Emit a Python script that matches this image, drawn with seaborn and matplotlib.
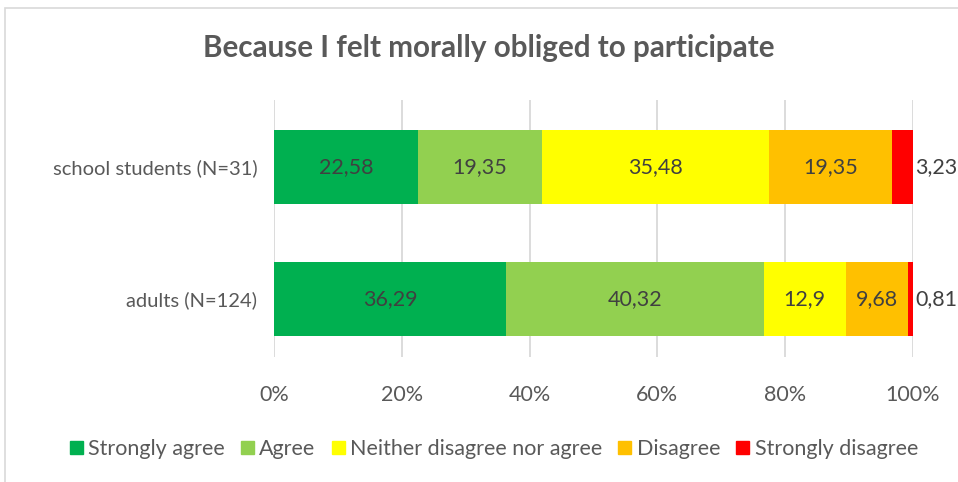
import matplotlib
matplotlib.use("Agg")
import matplotlib.pyplot as plt
import matplotlib.patches as mpatches
import numpy as np
import pandas as pd
import seaborn as sns

groups = ["school students (N=31)", "adults (N=124)"]
answers = ["Strongly agree", "Agree", "Neither disagree nor agree", "Disagree", "Strongly disagree"]
colors = ["#00B050", "#92D050", "#FFFF00", "#FFC000", "#FF0000"]
strongly_agree = [22.58, 36.29]
agree = [19.35, 40.32]
neither = [35.48, 12.9]
disagree = [19.35, 9.68]
strongly_disagree = [3.23, 0.81]

sns.set_theme(style="white")
plt.rcParams["font.family"] = ["Lato", "DejaVu Sans"]

values = np.array([strongly_agree, agree, neither, disagree, strongly_disagree])
cum = values.cumsum(axis=0)

fig = plt.figure(figsize=(9.58, 4.82), dpi=100)
ax = fig.add_axes([274 / 958, 1 - 357 / 482, 639 / 958, 257 / 482])

# stacked bars: draw the running totals from longest to shortest
for i in reversed(range(len(answers))):
    df = pd.DataFrame({"group": groups, "value": cum[i]})
    sns.barplot(data=df, x="value", y="group", color=colors[i], width=0.56,
                saturation=1, edgecolor="none", linewidth=0, ax=ax, zorder=2)

txt = "#404040"
fs = 15.5
for j in range(len(groups)):
    for i in range(len(answers)):
        lab = f"{values[i, j]:g}".replace(".", ",")
        if i == len(answers) - 1:
            ax.text(100.4, j, lab, ha="left", va="center", fontsize=fs, color=txt,
                    clip_on=False)
        else:
            ax.text(cum[i, j] - values[i, j] / 2, j, lab, ha="center", va="center",
                    fontsize=fs, color=txt)

ax.set_xlim(0, 100)
ax.set_ylim(1.44, -0.508)
ax.set_xticks(range(0, 101, 20))
ax.set_xticklabels([f"{t}%" for t in range(0, 101, 20)])
ax.xaxis.grid(True, color="#D9D9D9", linewidth=1.3)
ax.set_axisbelow(True)
for s in ax.spines.values():
    s.set_visible(False)
ax.tick_params(axis="x", length=0, pad=20, labelsize=fs, labelcolor="#595959")
ax.tick_params(axis="y", length=0, pad=12, labelsize=14.5, labelcolor="#595959")
ax.set_xlabel("")
ax.set_ylabel("")

fig.text(489 / 958, 1 - 48 / 482, "Because I felt morally obliged to participate",
         ha="center", va="center", fontsize=21.3, fontweight="bold", color="#595959")

handles = [mpatches.Patch(color=c, label=a) for c, a in zip(colors, answers)]
fig.legend(handles=handles, loc="center", bbox_to_anchor=(494 / 958, 1 - 449 / 482),
           ncol=5, frameon=False, fontsize=fs, handlelength=0.6, handleheight=0.6,
           handletextpad=0.25, columnspacing=0.75, labelcolor="#595959")

fig.patches.append(mpatches.Rectangle((5 / 958, -0.1), 1.1, 1 - 8 / 482 + 0.1,
                                      transform=fig.transFigure, fill=False,
                                      edgecolor="#D9D9D9", linewidth=1.2))

fig.savefig("out.png", dpi=100)
